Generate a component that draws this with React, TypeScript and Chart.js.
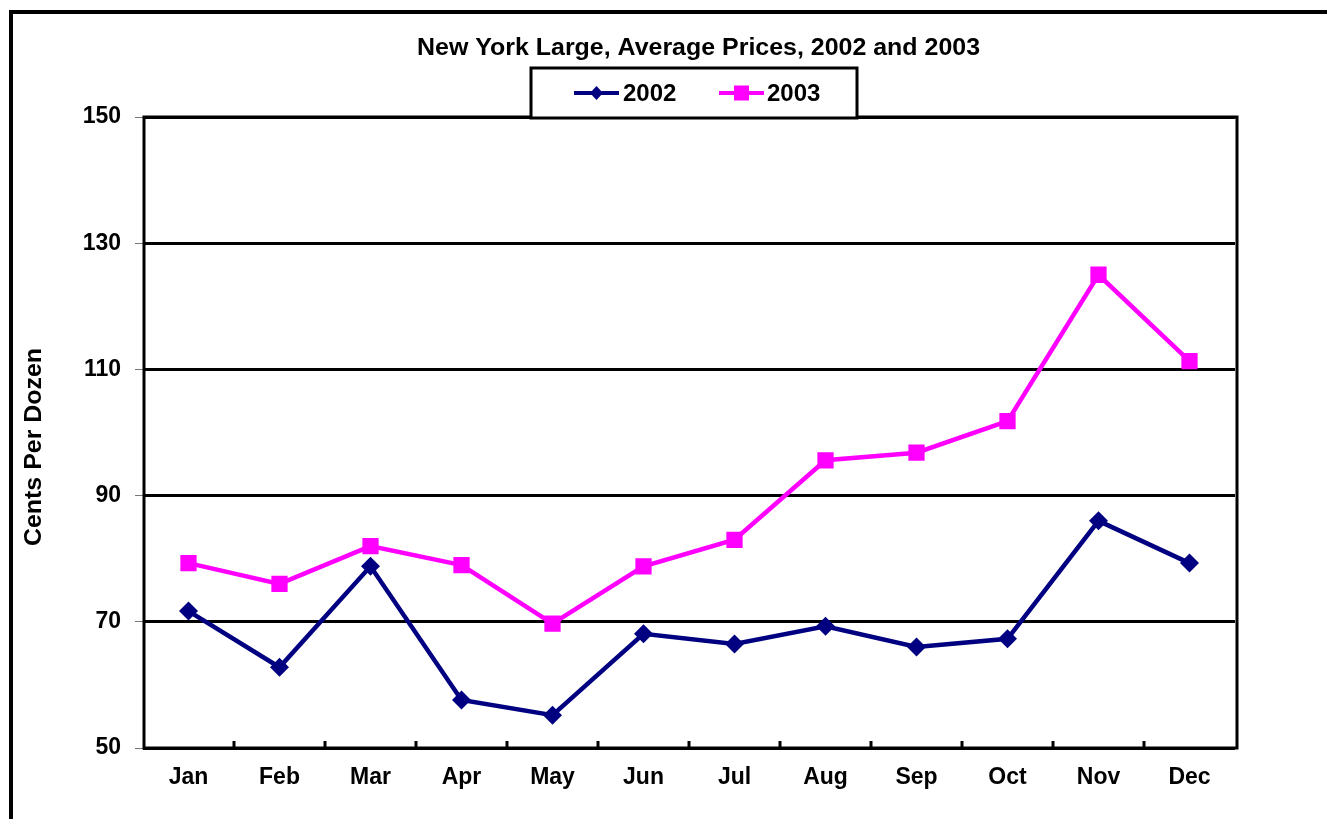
import { useEffect, useRef } from 'react';
import { Chart, registerables } from 'chart.js';

Chart.register(...registerables);

const months = ['Jan', 'Feb', 'Mar', 'Apr', 'May', 'Jun', 'Jul', 'Aug', 'Sep', 'Oct', 'Nov', 'Dec'];
const prices2002 = [71.7, 62.8, 78.8, 57.6, 55.2, 68.1, 66.5, 69.3, 66.0, 67.3, 86.0, 79.3];
const prices2003 = [79.3, 76.0, 82.0, 79.0, 69.7, 78.8, 83.0, 95.6, 96.8, 101.8, 125.0, 111.3];
const yMin = 50;
const yMax = 150;
const yStep = 20;
const titleText = 'New York Large, Average Prices, 2002 and 2003';
const yTitleText = 'Cents Per Dozen';

const FONT = "'Liberation Sans', Arial, sans-serif";

const decorPlugin = {
  id: 'decor',
  beforeDraw(chart: any) {
    const { ctx } = chart;
    ctx.save();
    ctx.fillStyle = '#fff';
    ctx.fillRect(0, 0, chart.width, chart.height);
    ctx.strokeStyle = '#000';
    ctx.lineWidth = 4;
    ctx.strokeRect(11, 12, 3000, 3000);
    ctx.restore();
  },
  beforeDatasetsDraw(chart: any) {
    const { ctx, chartArea: a } = chart;
    ctx.save();
    ctx.strokeStyle = '#000';
    ctx.lineWidth = 3;
    ctx.strokeRect(a.left + 1, a.top, a.right - a.left + 1, a.bottom - a.top);
    const xs = chart.scales.x;
    for (let i = 1; i < months.length; i++) {
      const x = (xs.getPixelForValue(i - 1) + xs.getPixelForValue(i)) / 2;
      ctx.beginPath();
      ctx.moveTo(x, a.bottom);
      ctx.lineTo(x, a.bottom - 7);
      ctx.stroke();
    }
    ctx.restore();
  },
  afterDraw(chart: any) {
    const { ctx } = chart;
    ctx.save();
    // Title
    ctx.fillStyle = '#000';
    ctx.font = `bold 23px ${FONT}`;
    ctx.textBaseline = 'alphabetic';
    ctx.textAlign = 'center';
    const tw = ctx.measureText(titleText).width;
    ctx.save();
    ctx.translate(698.5, 55);
    ctx.scale(563 / tw, 1);
    ctx.fillText(titleText, 0, 0);
    ctx.restore();

    // Y axis title
    ctx.font = `bold 23px ${FONT}`;
    const yw = ctx.measureText(yTitleText).width;
    ctx.save();
    ctx.translate(35, 447);
    ctx.rotate(-Math.PI / 2);
    ctx.scale(198 / yw, 1);
    ctx.textBaseline = 'middle';
    ctx.fillText(yTitleText, 0, 0);
    ctx.restore();

    // Legend box
    ctx.fillStyle = '#fff';
    ctx.fillRect(531, 68, 326, 50);
    ctx.strokeStyle = '#000';
    ctx.lineWidth = 3;
    ctx.strokeRect(531, 68, 326, 50);

    const entries = [
      { x: 574, textX: 623 },
      { x: 719, textX: 767 },
    ];
    const cy = 93;
    chart.data.datasets.forEach((ds: any, i: number) => {
      const e = entries[i];
      ctx.strokeStyle = ds.borderColor;
      ctx.lineWidth = 4;
      ctx.beginPath();
      ctx.moveTo(e.x, cy);
      ctx.lineTo(e.x + 45, cy);
      ctx.stroke();
      ctx.fillStyle = ds.backgroundColor;
      const mx = e.x + 22.5;
      if (ds.pointStyle === 'rectRot') {
        ctx.beginPath();
        ctx.moveTo(mx, cy - 7);
        ctx.lineTo(mx + 6.5, cy);
        ctx.lineTo(mx, cy + 7);
        ctx.lineTo(mx - 6.5, cy);
        ctx.closePath();
        ctx.fill();
      } else {
        ctx.fillRect(mx - 7.5, cy - 7.5, 15, 15);
      }
      ctx.fillStyle = '#000';
      ctx.textAlign = 'left';
      ctx.textBaseline = 'middle';
      ctx.font = `bold 24px ${FONT}`;
      ctx.fillText(ds.label, e.textX, cy + 1);
    });
    ctx.restore();
  },
};

export default function App() {
  const canvasRef = useRef<HTMLCanvasElement>(null);

  useEffect(() => {
    const canvas = canvasRef.current;
    if (!canvas) return;
    const chart = new Chart(canvas, {
      type: 'line',
      data: {
        labels: months,
        datasets: [
          {
            label: '2002',
            data: prices2002,
            borderColor: '#000080',
            backgroundColor: '#000080',
            borderWidth: 4.5,
            pointStyle: 'rectRot',
            pointRadius: 9.5,
            pointHoverRadius: 9.5,
            pointBorderWidth: 0,
            tension: 0,
          },
          {
            label: '2003',
            data: prices2003,
            borderColor: '#FF00FF',
            backgroundColor: '#FF00FF',
            borderWidth: 4.5,
            pointStyle: 'rect',
            pointRadius: 11.5,
            pointHoverRadius: 11.5,
            pointBorderWidth: 0,
            tension: 0,
          },
        ],
      },
      options: {
        responsive: false,
        animation: false,
        events: [],
        layout: { padding: { top: 117, right: 92, left: 0, bottom: 0 } },
        plugins: {
          legend: { display: false },
          title: { display: false },
          tooltip: { enabled: false },
        },
        scales: {
          x: {
            offset: true,
            grid: { display: false, drawTicks: false },
            border: { display: false },
            ticks: {
              color: '#000',
              padding: 16,
              font: { family: FONT, size: 23, weight: 'bold' },
            },
            afterFit(scale: any) {
              scale.height = 71;
            },
          },
          y: {
            min: yMin,
            max: yMax,
            ticks: {
              stepSize: yStep,
              color: '#000',
              padding: 14,
              font: { family: FONT, size: 23, weight: 'bold' },
            },
            grid: {
              color: '#000',
              lineWidth: 3,
              drawTicks: true,
              tickLength: 8,
              tickColor: '#777',
              tickWidth: 1,
            },
            border: { display: false },
            title: { display: false },
            afterFit(scale: any) {
              scale.width = 143;
            },
          },
        },
      },
      plugins: [decorPlugin],
    });
    return () => chart.destroy();
  }, []);

  return (
    <div style={{ position: 'fixed', left: 0, top: 0, width: 1327, height: 819, background: '#fff' }}>
      <canvas ref={canvasRef} width={1327} height={819} style={{ display: 'block' }} />
    </div>
  );
}
